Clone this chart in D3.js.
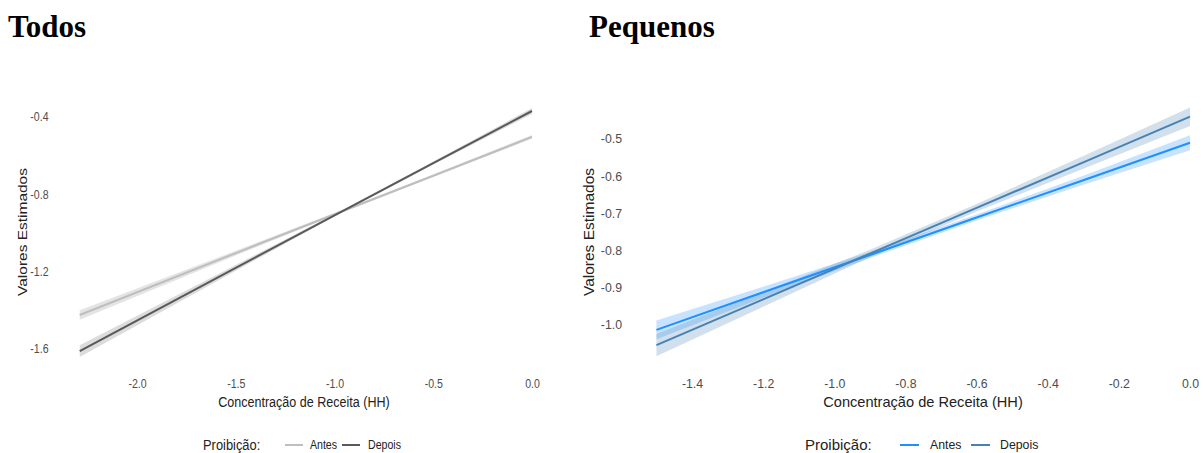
<!DOCTYPE html>
<html>
<head>
<meta charset="utf-8">
<script src="https://cdn.jsdelivr.net/npm/d3@7"></script>
<style>
  body { margin: 0; background: #fff; }
  text { font-family: "Liberation Sans", Arial, sans-serif; }
  .title { font-family: "Liberation Serif", "Times New Roman", serif; font-weight: bold; font-size: 31px; fill: #000; }
  .tick text { fill: #4d4d4d; }
  .axis-title { fill: #222; }
</style>
</head>
<body>
<div id="wrapper"></div>
<script>
const groups = ["Antes", "Depois"]

// Todos
const todosX = [-2.29, -1.5, -1.0, -0.5, 0.0]
const todosAntes = [-1.424, -1.104, -0.903, -0.704, -0.503]
const todosDepois = [-1.611, -1.180, -0.909, -0.638, -0.369]
const todosAntesSe = [0.025, 0.012, 0.006, 0.006, 0.010]
const todosDepoisSe = [0.030, 0.015, 0.006, 0.008, 0.015]
const todosXTicks = [-2.0, -1.5, -1.0, -0.5, 0.0]
const todosYTicks = [-1.6, -1.2, -0.8, -0.4]

// Pequenos
const pequenosX = [-1.5, -1.2, -0.9, -0.6, -0.3, 0.0]
const pequenosAntes = [-1.013, -0.912, -0.812, -0.711, -0.611, -0.510]
const pequenosDepois = [-1.054, -0.931, -0.808, -0.685, -0.563, -0.440]
const pequenosAntesSe = [0.025, 0.015, 0.008, 0.008, 0.012, 0.020]
const pequenosDepoisSe = [0.030, 0.020, 0.010, 0.010, 0.017, 0.025]
const pequenosXTicks = [-1.4, -1.2, -1.0, -0.8, -0.6, -0.4, -0.2, 0.0]
const pequenosYTicks = [-1.0, -0.9, -0.8, -0.7, -0.6, -0.5]

const fmt = v => v.toFixed(1)

const svg = d3.select("#wrapper")
  .append("svg")
    .attr("width", 1203)
    .attr("height", 453)

function drawPanel(p) {
  const sx = p.squeeze
  const squeeze = `scale(${sx},1)`

  svg.append("text")
    .attr("class", "title")
    .attr("x", p.titleX)
    .attr("y", 37)
    .text(p.title)

  const xScale = d3.scaleLinear()
    .domain([p.xTicks[0], 0])
    .range(p.xRange)

  const yScale = d3.scaleLinear()
    .domain([p.yTicks[0], p.yTicks[p.yTicks.length - 1]])
    .range(p.yRange)

  const xAxis = svg.append("g")
    .attr("transform", "translate(0,375)")
    .call(d3.axisBottom(xScale).tickValues(p.xTicks).tickFormat(fmt).tickSize(0).tickPadding(4))
  xAxis.select(".domain").remove()
  xAxis.selectAll("text")
    .style("font-size", "12.3px")
    .attr("transform", squeeze)

  const yAxis = svg.append("g")
    .attr("transform", `translate(${p.yAxisX},0)`)
    .call(d3.axisLeft(yScale).tickValues(p.yTicks).tickFormat(fmt).tickSize(0).tickPadding(4))
  yAxis.select(".domain").remove()
  yAxis.selectAll("text")
    .style("font-size", "12.3px")
    .attr("transform", squeeze)

  svg.append("text")
    .attr("class", "axis-title")
    .attr("transform", `translate(${p.xTitleX},402) ${squeeze}`)
    .attr("text-anchor", "middle")
    .attr("dy", "0.35em")
    .style("font-size", "14.6px")
    .text("Concentração de Receita (HH)")

  svg.append("text")
    .attr("class", "axis-title")
    .attr("transform", `translate(${p.yTitleX},232) ${squeeze} rotate(-90)`)
    .attr("text-anchor", "middle")
    .attr("dy", "0.35em")
    .style("font-size", "15.5px")
    .text("Valores Estimados")

  const series = groups.map((g, i) => ({
    name: g,
    color: p.colors[i],
    fill: p.fills[i],
    values: p.x.map((x, j) => ({ x: x, y: p.y[i][j], se: p.se[i][j] }))
  }))

  const area = d3.area()
    .x(d => xScale(d.x))
    .y0(d => yScale(d.y - d.se))
    .y1(d => yScale(d.y + d.se))

  const line = d3.line()
    .x(d => xScale(d.x))
    .y(d => yScale(d.y))

  svg.append("g").selectAll("path")
    .data(series)
    .enter().append("path")
      .attr("d", d => area(d.values))
      .attr("fill", d => d.fill)
      .attr("fill-opacity", p.fillOpacity)

  svg.append("g").selectAll("path")
    .data(series)
    .enter().append("path")
      .attr("d", d => line(d.values))
      .attr("fill", "none")
      .attr("stroke", d => d.color)
      .attr("stroke-width", 2)

  const legend = svg.append("g")

  legend.append("text")
    .attr("transform", `translate(${p.legend.title},445) ${squeeze}`)
    .attr("dy", "0.35em")
    .style("font-size", "15px")
    .attr("fill", "#222")
    .text("Proibição:")

  series.forEach((s, i) => {
    const lx = p.legend.keys[i]
    legend.append("line")
      .attr("x1", lx)
      .attr("x2", lx + p.legend.keyWidth)
      .attr("y1", 445)
      .attr("y2", 445)
      .attr("stroke", s.color)
      .attr("stroke-width", 2)
    legend.append("text")
      .attr("transform", `translate(${p.legend.labels[i]},445) ${squeeze}`)
      .attr("dy", "0.35em")
      .style("font-size", "12.3px")
      .attr("fill", "#222")
      .text(s.name)
  })
}

drawPanel({
  title: "Todos",
  titleX: 8,
  squeeze: 0.86,
  x: todosX,
  y: [todosAntes, todosDepois],
  se: [todosAntesSe, todosDepoisSe],
  xTicks: todosXTicks,
  yTicks: todosYTicks,
  xRange: [137, 532],
  yRange: [349, 117],
  yAxisX: 52,
  xTitleX: 304,
  yTitleX: 22,
  colors: ["#bebebe", "#595959"],
  fills: ["#a6a6a6", "#8c8c8c"],
  fillOpacity: 0.3,
  legend: { title: 203, keys: [285, 342], keyWidth: 18, labels: [310, 368] }
})

drawPanel({
  title: "Pequenos",
  titleX: 589,
  squeeze: 1,
  x: pequenosX,
  y: [pequenosAntes, pequenosDepois],
  se: [pequenosAntesSe, pequenosDepoisSe],
  xTicks: pequenosXTicks,
  yTicks: pequenosYTicks,
  xRange: [692, 1190],
  yRange: [325, 139],
  yAxisX: 626,
  xTitleX: 923,
  yTitleX: 589,
  colors: ["#1e90ff", "#4682b4"],
  fills: ["#1e90ff", "#4682b4"],
  fillOpacity: 0.25,
  legend: { title: 805, keys: [900, 971], keyWidth: 19, labels: [930, 1000] }
})
</script>
</body>
</html>
